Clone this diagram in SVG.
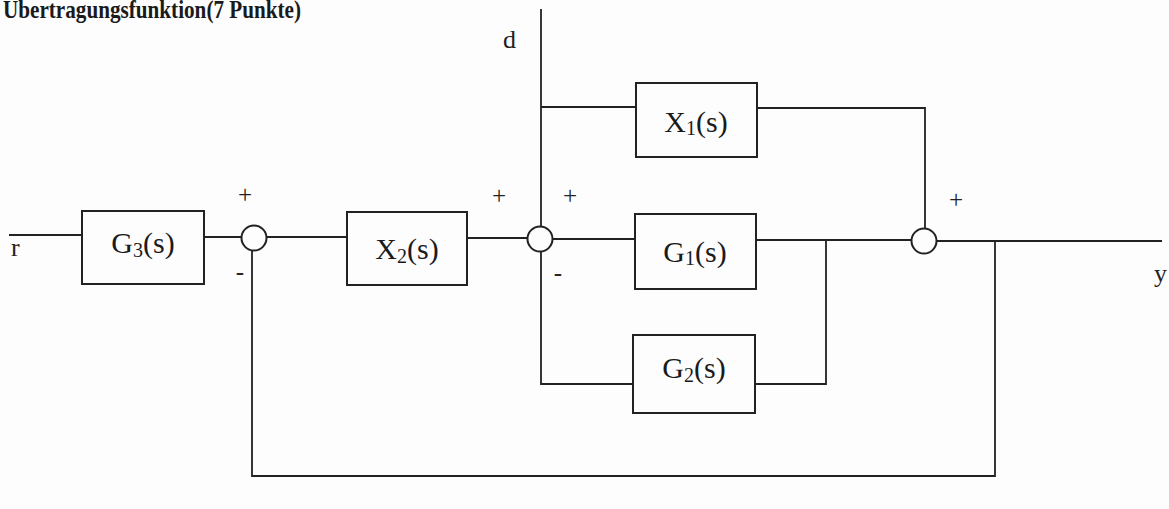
<svg xmlns="http://www.w3.org/2000/svg" width="1169" height="509" viewBox="0 0 1169 509">
<style>
.w{fill:none;stroke:#222;stroke-width:1.8}
.b{fill:#fdfdfd;stroke:#222;stroke-width:2}
.s{fill:#fdfdfd;stroke:#222;stroke-width:2}
.lbl{font-family:"Liberation Serif","Times New Roman",serif;font-size:30px;fill:#1a1a1a;text-anchor:middle}
.sub{font-size:20px}
.sig{font-family:"Liberation Serif","Times New Roman",serif;font-size:25px;fill:#222;text-anchor:middle}
.io{font-family:"Liberation Serif","Times New Roman",serif;font-size:26px;fill:#222}
.title{font-family:"Liberation Serif","Times New Roman",serif;font-size:26px;font-weight:bold;fill:#1a1a1a}
</style>
<rect x="0" y="0" width="1169" height="509" fill="#fdfdfd"/>
<text class="title" x="3" y="18" textLength="298" lengthAdjust="spacingAndGlyphs">Übertragungsfunktion(7 Punkte)</text>

<g id="connectors">
<polyline class="w" points="9,235 82,235"/>
<polyline class="w" points="204,237 241,237"/>
<polyline class="w" points="267,237 347,237"/>
<polyline class="w" points="467,238 527.5,238"/>
<polyline class="w" points="552.5,239 635,239"/>
<polyline class="w" points="541,9 541,226.5"/>
<polyline class="w" points="541,107 636,107"/>
<polyline class="w" points="541,251.5 541,384 633,384"/>
<polyline class="w" points="757,108 925,108 925,228.5"/>
<polyline class="w" points="756,240 911.5,240"/>
<polyline class="w" points="826,240 826,384 755,384"/>
<polyline class="w" points="936.5,241 1162,241"/>
<polyline class="w" points="995,241 995,476 252,476 252,251"/>
</g>

<g id="G3"><rect class="b" x="82" y="211" width="122" height="73"/><text class="lbl" x="143" y="253">G<tspan class="sub" dy="4">3</tspan><tspan dy="-4">(s)</tspan></text></g>
<g id="X2"><rect class="b" x="347" y="212" width="120" height="73"/><text class="lbl" x="407" y="259">X<tspan class="sub" dy="4">2</tspan><tspan dy="-4">(s)</tspan></text></g>
<g id="X1"><rect class="b" x="636" y="83" width="121" height="74"/><text class="lbl" x="696" y="132">X<tspan class="sub" dy="3">1</tspan><tspan dy="-3">(s)</tspan></text></g>
<g id="G1"><rect class="b" x="635" y="214" width="121" height="75"/><text class="lbl" x="695" y="262">G<tspan class="sub" dy="3">1</tspan><tspan dy="-3">(s)</tspan></text></g>
<g id="G2"><rect class="b" x="633" y="335" width="122" height="78"/><text class="lbl" x="694" y="378">G<tspan class="sub" dy="4">2</tspan><tspan dy="-4">(s)</tspan></text></g>

<g id="sum1"><circle class="s" cx="254" cy="238" r="12.5"/><text class="sig" x="245" y="203">+</text><text class="sig" x="240" y="280">-</text></g>
<g id="sum2"><circle class="s" cx="540" cy="239" r="12.5"/><text class="sig" x="499" y="204">+</text><text class="sig" x="570" y="204">+</text><text class="sig" x="558" y="281">-</text></g>
<g id="sum3"><circle class="s" cx="924" cy="241" r="12.5"/><text class="sig" x="956" y="208">+</text></g>

<text class="io" x="11" y="256">r</text>
<text class="io" x="503" y="48">d</text>
<text class="io" x="1154" y="282">y</text>
</svg>
